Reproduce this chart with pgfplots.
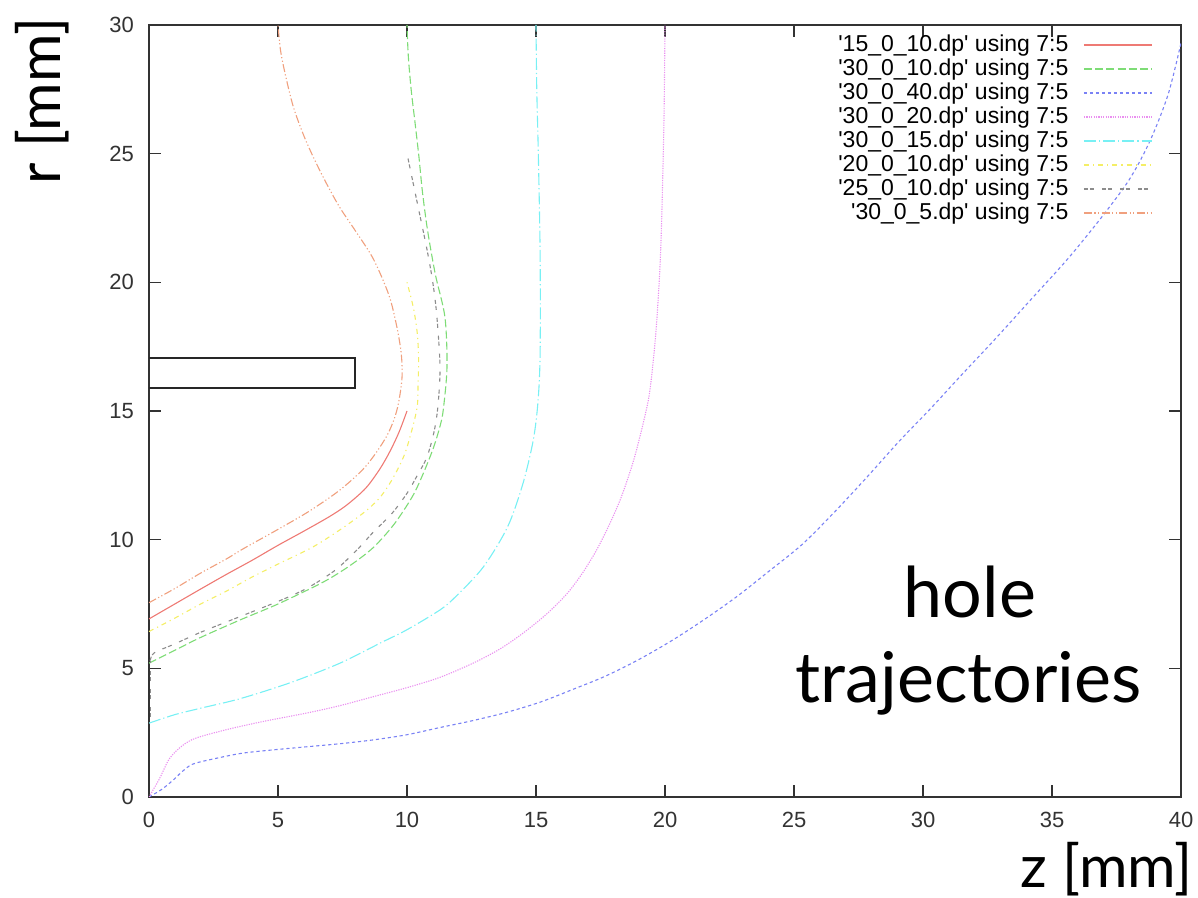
\documentclass[border=0pt]{standalone}
\usepackage{pgfplots}
\pgfplotsset{compat=1.18}
\usepackage{fontspec}
\setmainfont{Liberation Sans}
\newfontfamily\bigfont{Lato}
\definecolor{cred}{HTML}{EE7A74}
\definecolor{cgreen}{HTML}{7EDC76}
\definecolor{cblue}{HTML}{7A82F5}
\definecolor{cpurple}{HTML}{EA90F0}
\definecolor{ccyan}{HTML}{78F0F4}
\definecolor{cyellow}{HTML}{F4EE66}
\definecolor{cgray}{HTML}{8C8C8C}
\definecolor{corange}{HTML}{F0A07E}
\begin{document}
\begin{tikzpicture}
\begin{axis}[
 at={(0,0)}, anchor=south west,
 width=516pt, height=386pt, scale only axis,
 xmin=0, xmax=40, ymin=0, ymax=30,
 xtick={0,5,...,40}, ytick={0,5,...,30},
 tick align=inside, major tick length=6pt,
 axis line style={black!80, line width=0.6pt},
 every tick/.style={black!80, line width=0.6pt},
 tick label style={font=\fontsize{11}{13}\selectfont, text=black!80},
 /pgf/number format/assume math mode=true,
 xticklabel style={yshift=-4pt},
 yticklabel style={xshift=-4pt},
 xlabel={z [mm]}, ylabel={r [mm]},
 label style={font=\bigfont\fontsize{29.5}{32}\selectfont, inner sep=0pt},
 xlabel style={at={(axis description cs:1.0116,-0.1166)}, anchor=base east},
 ylabel style={at={(axis description cs:-0.0862,0.9016)}, anchor=base},
 legend plot pos=right,
 legend cell align=right,
 legend image code/.code={\path (0pt,-1pt) (0pt,1pt); \draw[#1, line width=0.7pt] (6.5pt,0.25pt) -- (40.5pt,0.25pt);},
 legend style={at={(axis description cs:0.9729,0.9896)}, anchor=north east,
   draw=none, fill=none, inner sep=0pt, row sep=0pt,
   font=\fontsize{11.5}{12}\selectfont,
   nodes={inner sep=1pt, text height=8pt, text depth=2pt}},
 every axis plot/.append style={line width=0.55pt},
 clip mode=individual,
]
% rectangle (electrode)
\addplot[black!85, line width=0.8pt, forget plot] coordinates {(0,15.9) (7.98,15.9) (7.98,17.05) (0,17.05)};

\addplot[cred, smooth, tension=0.5] coordinates {
(0,6.92) (1,7.5) (2,8.08) (3,8.65) (4,9.2) (5,9.78) (6,10.33) (7,10.9) (7.67,11.35) (8.4,12.0) (8.95,12.75) (9.35,13.45) (9.7,14.2) (10,15.0)};
\addlegendentry{\textquotesingle 15\_0\_10.dp\textquotesingle\ using 7:5}

\addplot[cgreen, smooth, tension=0.5, dash pattern=on 4pt off 1.6pt] coordinates {
(0,5.2) (1,5.7) (2,6.2) (3.53,6.88) (5,7.5) (6.75,8.35) (7.8,9.0) (8.7,9.7) (9.5,10.6) (10.2,11.66) (10.6,12.5) (11.0,13.5) (11.25,14.3) (11.4,15.0) (11.55,16.7) (11.47,18.65) (11.1,20.3) (10.8,22.0) (10.6,23.5) (10.46,24.9) (10.3,26.3) (10.16,27.5) (10.05,28.8) (10.0,30.0)};
\addlegendentry{\textquotesingle 30\_0\_10.dp\textquotesingle\ using 7:5}

\addplot[cblue, smooth, tension=0.5, dash pattern=on 1.6pt off 1.4pt] coordinates {
(0,0) (0.5,0.3) (0.94,0.66) (1.3,1.0) (1.7,1.28) (2.5,1.48) (3.6,1.7) (4.8,1.83) (6.1,1.95) (7.4,2.07) (8.7,2.22) (10,2.42) (11.28,2.7) (12.6,2.98) (13.9,3.3) (15.2,3.7) (16.4,4.17) (17.7,4.7) (19.0,5.35) (20.3,6.1) (21.6,6.95) (22.8,7.8) (24.0,8.75) (25.3,9.8) (26.5,11.0) (27.8,12.4) (29.1,13.85) (30.3,15.1) (31.4,16.3) (32.8,17.8) (34.2,19.35) (35.6,20.9) (36.9,22.5) (38.0,24.0) (38.8,25.5) (39.5,27.3) (40,29.3)};
\addlegendentry{\textquotesingle 30\_0\_40.dp\textquotesingle\ using 7:5}

\addplot[cpurple, smooth, tension=0.5, dash pattern=on 0.6pt off 0.6pt] coordinates {
(0,0) (0.4,0.7) (0.8,1.5) (1.3,2.0) (1.85,2.3) (3.14,2.65) (4.5,2.95) (6.1,3.26) (7.4,3.55) (8.7,3.9) (10,4.25) (11.28,4.65) (12.56,5.2) (13.6,5.75) (14.5,6.37) (15.4,7.1) (16.2,7.9) (16.8,8.7) (17.35,9.6) (17.85,10.6) (18.26,11.54) (18.6,12.5) (18.9,13.5) (19.35,15.4) (19.55,17.0) (19.68,18.5) (19.8,20.5) (19.87,22.4) (19.96,26.3) (20.0,30.0)};
\addlegendentry{\textquotesingle 30\_0\_20.dp\textquotesingle\ using 7:5}

\addplot[ccyan, smooth, tension=0.5, dash pattern=on 6pt off 1.5pt on 0.6pt off 1.5pt] coordinates {
(0,2.87) (1,3.2) (2,3.45) (3.53,3.82) (5.5,4.45) (7.4,5.2) (9,6.0) (10,6.5) (11.28,7.27) (11.9,7.8) (12.96,8.94) (13.9,10.5) (14.5,12.2) (14.9,13.9) (15.08,15.4) (15.16,17.25) (15.16,21.1) (15.09,25.0) (15.03,27.5) (15.0,30.0)};
\addlegendentry{\textquotesingle 30\_0\_15.dp\textquotesingle\ using 7:5}

\addplot[cyellow, smooth, tension=0.5, dash pattern=on 2.5pt off 2pt on 0.6pt off 2pt] coordinates {
(0,6.43) (1,6.95) (2,7.5) (3,8.0) (4,8.55) (5,9.05) (6.36,9.72) (7.5,10.45) (8.45,11.15) (9.0,11.7) (9.46,12.4) (9.9,13.3) (10.2,14.3) (10.4,15.2) (10.43,16.1) (10.45,17.0) (10.4,18.0) (10.25,19.0) (10.0,20.0)};
\addlegendentry{\textquotesingle 20\_0\_10.dp\textquotesingle\ using 7:5}

\addplot[cgray, smooth, tension=0.5, dash pattern=on 2pt off 1pt on 2pt off 4pt] coordinates {
(0.05,5.3) (0.2,5.6) (1,5.95) (2,6.4) (3.5,7.0) (5,7.6) (6.1,8.1) (7.2,8.8) (8.06,9.6) (8.7,10.3) (9.4,11.0) (10,11.8) (10.4,12.5) (10.77,13.2) (11.05,14.2) (11.2,15.2) (11.28,16.7) (11.16,18.65) (11.0,20.0) (10.77,21.3) (10.5,22.6) (10.25,23.8) (10.0,25.0)};
\addlegendentry{\textquotesingle 25\_0\_10.dp\textquotesingle\ using 7:5}

\addplot[corange, smooth, tension=0.5, dash pattern=on 4pt off 1.2pt on 0.6pt off 1.2pt on 0.6pt off 1.2pt] coordinates {
(0,7.55) (1,8.1) (2,8.7) (3,9.25) (3.66,9.65) (5,10.4) (6.2,11.1) (7.4,11.93) (8.4,12.85) (9.2,14.0) (9.6,15.0) (9.8,16.2) (9.78,17.2) (9.6,18.3) (9.3,19.5) (8.7,20.9) (8.0,22.0) (7.4,22.9) (6.9,23.8) (6.4,24.8) (6.0,25.7) (5.6,26.8) (5.3,28.0) (5.1,29.0) (5.0,30.0)};
\addlegendentry{\textquotesingle 30\_0\_5.dp\textquotesingle\ using 7:5}

\addplot[cgray, dash pattern=on 2pt off 1pt on 2pt off 4pt, forget plot] coordinates {(0.05,3.1) (0.05,5.3)};

\node[font=\bigfont\fontsize{35}{40}\selectfont, anchor=base, inner sep=0pt] at (axis cs:31.82,6.957) {hole};
\node[font=\bigfont\fontsize{35}{40}\selectfont, anchor=base, inner sep=0pt] at (axis cs:31.77,3.69) {trajectories};
\end{axis}
\pgfresetboundingbox
\path[use as bounding box] (-74.5pt,-50.5pt) rectangle (524.5pt,398.5pt);
\end{tikzpicture}
\end{document}
